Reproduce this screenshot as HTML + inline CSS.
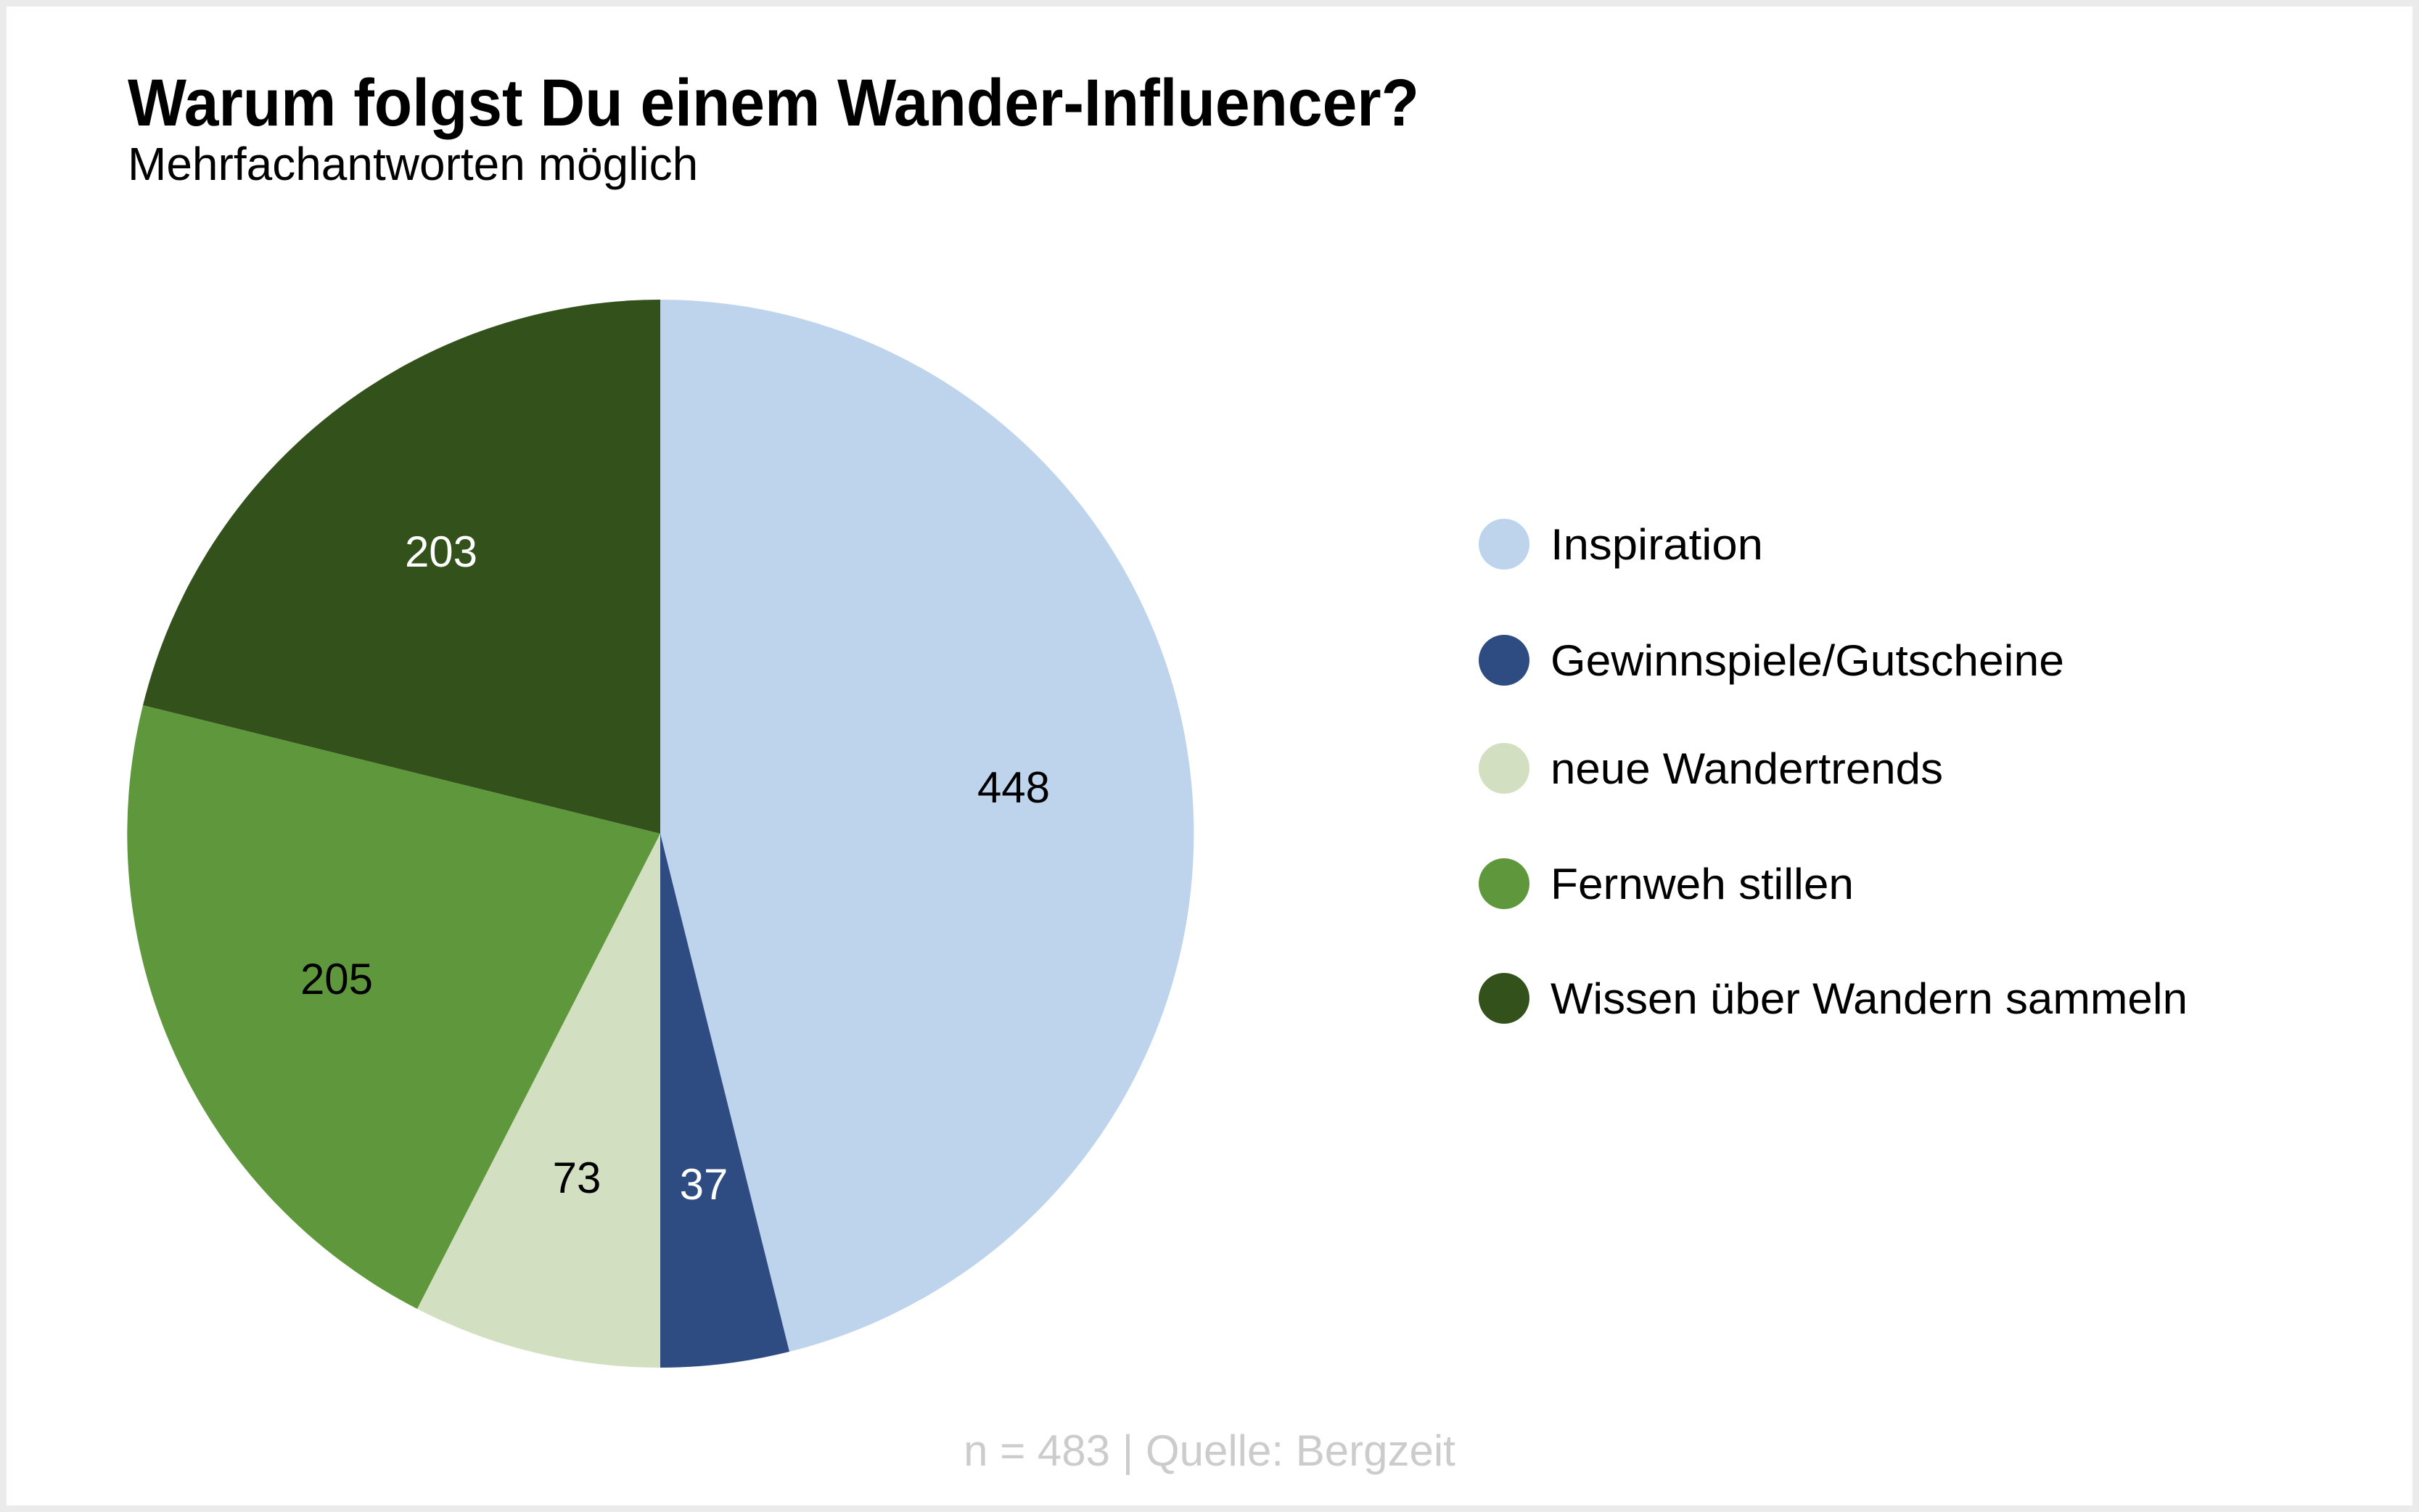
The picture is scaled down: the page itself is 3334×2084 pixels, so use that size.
<!DOCTYPE html>
<html><head><meta charset="utf-8"><style>
html,body{margin:0;padding:0;background:#ebebeb;}
svg{display:block;font-family:"Liberation Sans",Roboto,sans-serif;}
</style></head><body>
<svg width="3334" height="2084" viewBox="0 0 3334 2084" xmlns="http://www.w3.org/2000/svg">
<rect x="0" y="0" width="3334" height="2084" fill="#ebebeb"/>
<rect x="9" y="9" width="3316" height="2066" fill="#ffffff"/>
<text x="176" y="173" font-size="92" font-weight="bold" fill="#000" textLength="1780" lengthAdjust="spacingAndGlyphs">Warum folgst Du einem Wander-Influencer?</text>
<text x="176" y="248" font-size="64" fill="#000">Mehrfachantworten möglich</text>
<g transform="translate(910,1149)">
<path d="M0,0 L0,-736 A736,736 0 0 1 178,714 Z" fill="#bed4ec"/>
<path d="M0,0 L178,714 A736,736 0 0 1 0,736 Z" fill="#2e4c82"/>
<path d="M0,0 L0,736 A736,736 0 0 1 -335,655 Z" fill="#d3dfc1"/>
<path d="M0,0 L-335,655 A736,736 0 0 1 -713,-177 Z" fill="#5f973c"/>
<path d="M0,0 L-713,-177 A736,736 0 0 1 0,-736 Z" fill="#33511a"/>
</g>
<g font-size="60" text-anchor="middle">
<text x="1397" y="1106" fill="#000">448</text>
<text x="970" y="1653" fill="#fff">37</text>
<text x="795" y="1644" fill="#000">73</text>
<text x="464" y="1370" fill="#000">205</text>
<text x="608" y="781" fill="#fff">203</text>
</g>
<g font-size="60" fill="#000">
<circle cx="2073" cy="750" r="35" fill="#bed4ec"/><text x="2137" y="771" textLength="293" lengthAdjust="spacingAndGlyphs">Inspiration</text>
<circle cx="2073" cy="910" r="35" fill="#2e4c82"/><text x="2137" y="931" textLength="708" lengthAdjust="spacingAndGlyphs">Gewinnspiele/Gutscheine</text>
<circle cx="2073" cy="1059" r="35" fill="#d3dfc1"/><text x="2137" y="1080" textLength="541" lengthAdjust="spacingAndGlyphs">neue Wandertrends</text>
<circle cx="2073" cy="1218" r="35" fill="#5f973c"/><text x="2137" y="1239" textLength="418" lengthAdjust="spacingAndGlyphs">Fernweh stillen</text>
<circle cx="2073" cy="1376" r="35" fill="#33511a"/><text x="2137" y="1397" textLength="878" lengthAdjust="spacingAndGlyphs">Wissen über Wandern sammeln</text>
</g>
<text x="1667" y="2020" font-size="60" fill="#cccccc" text-anchor="middle">n = 483 | Quelle: Bergzeit</text>
</svg>
</body></html>
